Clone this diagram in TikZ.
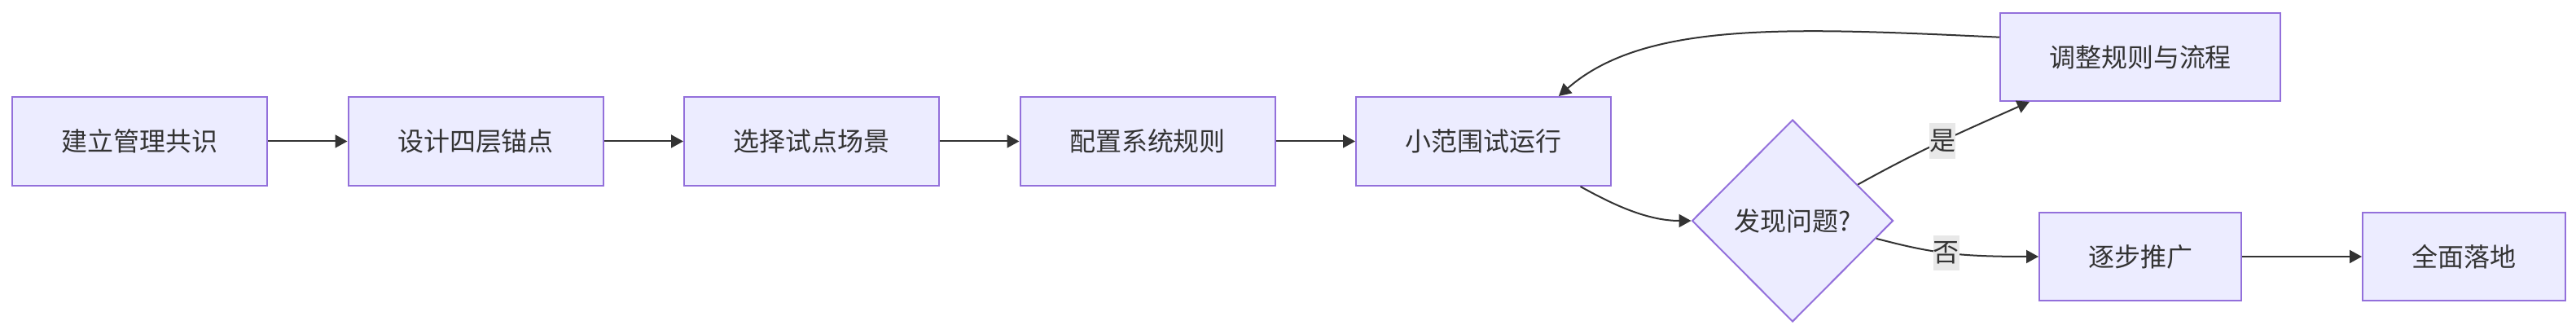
\documentclass[tikz,border=0pt]{standalone}
\usepackage{fontspec}
\newfontfamily\cjkfont{Noto Sans CJK SC}
\usetikzlibrary{arrows.meta, positioning, shapes.geometric}
\definecolor{BoxFill}{rgb}{0.925, 0.925, 1.0}
\definecolor{BoxLine}{rgb}{0.576, 0.439, 0.859}
\definecolor{InkGray}{rgb}{0.2, 0.2, 0.2}
\definecolor{LabelGray}{rgb}{0.91, 0.91, 0.91}

\begin{document}
\begin{tikzpicture}[
    font=\cjkfont\fontsize{9.1pt}{11pt}\selectfont,
    stepbox/.style={draw=BoxLine, line width=0.02cm, fill=BoxFill, text=InkGray,
        minimum width=3.13cm, minimum height=1.09cm, inner sep=0pt},
    decision/.style={diamond, aspect=1, draw=BoxLine, line width=0.02cm, fill=BoxFill,
        text=InkGray, minimum width=2.47cm, minimum height=2.48cm, inner sep=0pt},
    flow/.style={-{Triangle[length=0.15cm, width=0.16cm]}, draw=InkGray, line width=0.02cm},
    lbl/.style={fill=LabelGray, text=InkGray, inner xsep=0pt, inner ysep=0.08cm},
]
\useasboundingbox (0,0) rectangle (31.63,4.10);

% hauptreihe
\foreach \x/\lbl [count=\i] in {%
    1.715/建立管理共识,
    5.84/设计四层锚点,
    9.965/选择试点场景,
    14.09/配置系统规则,
    18.215/小范围试运行%
}{
    \node[stepbox] (m\i) at (\x,2.365) {\lbl};
}
\foreach \a/\b in {1/2, 2/3, 3/4, 4/5}
    \draw[flow] (m\a) -- (m\b);

% entscheidung
\node[decision] (chk) at (22.01,1.39) {发现问题?};
\node[stepbox, minimum width=3.44cm, minimum height=1.08cm] (fix) at (26.28,3.40) {调整规则与流程};
\node[stepbox, minimum width=2.48cm, minimum height=1.08cm] (roll) at (26.28,0.95) {逐步推广};
\node[stepbox, minimum width=2.49cm, minimum height=1.08cm, right=1.47cm of roll] (done) {全面落地};

\draw[flow] (m5.-25) .. controls (19.75,1.62) and (20.2,1.39) .. (chk.west);
\draw[flow] (chk.29) to[out=29, in=-156] node[lbl] {是} (fix.-158);
\draw[flow] (chk.-12) .. controls (23.7,1.0) and (24.0,0.95) .. node[lbl] {否} (roll.west);
\draw[flow] (fix.172) .. controls (22.0,3.76) and (20.2,3.85) .. (m5.31);
\draw[flow] (roll) -- (done);

\end{tikzpicture}
\end{document}
